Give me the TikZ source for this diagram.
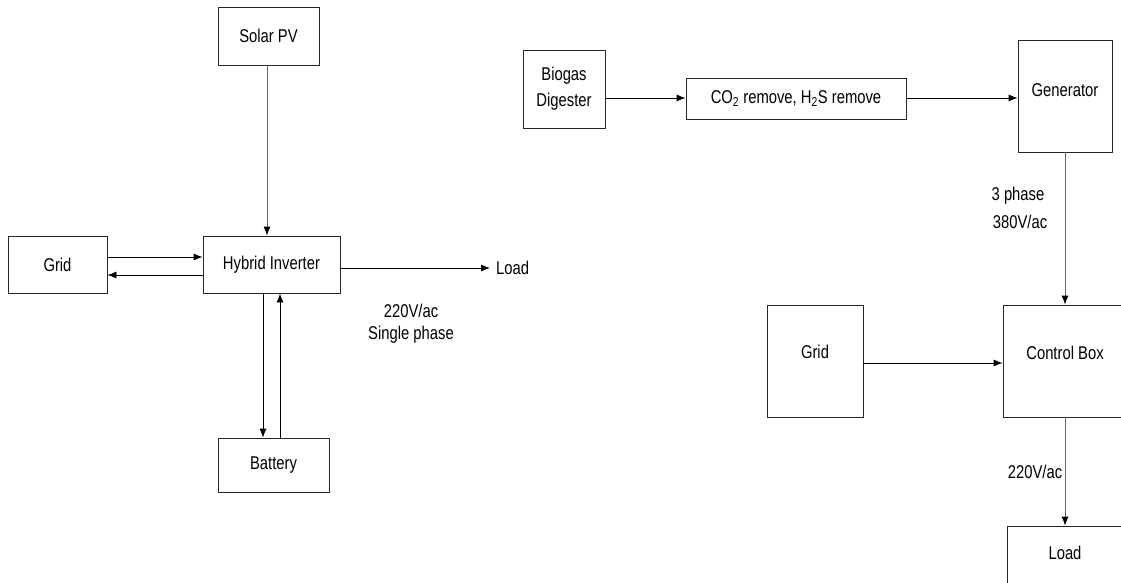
\documentclass[tikz,border=0pt]{standalone}
\usepackage{fontspec}
\setmainfont{Liberation Sans}[FakeStretch=0.8]
\usetikzlibrary{arrows.meta}
\tikzset{
  box/.style={draw=black!85, line width=0.8pt, fill=white, inner sep=0pt, font=\fontsize{18.5}{22}\selectfont},
  lbl/.style={font=\fontsize{18.5}{22}\selectfont, inner sep=0pt},
  arr/.style={line width=0.8pt, -{Latex[length=9pt,width=7pt]}},
  garr/.style={draw=black!60, line width=0.9pt, arrows={-{Latex[length=9pt,width=7pt,color=black]}}}
}
\begin{document}
\begin{tikzpicture}[x=1pt,y=-1pt]
\clip (0,0) rectangle (1121,583);
\fill[white] (0,0) rectangle (1121,583);
% left diagram
\node[box, minimum width=101pt, minimum height=58pt] (solar) at (268.5,36) {Solar PV};
\node[box, minimum width=99pt, minimum height=57pt] (gridL) at (57.5,264.5) {Grid};
\node[box, minimum width=137pt, minimum height=57pt] (inv) at (271.5,264.5) {Hybrid Inverter};
\node[box, minimum width=111pt, minimum height=54pt] (bat) at (273.5,465) {Battery};
\node[lbl, anchor=west] (loadL) at (496,268) {Load};
\node[lbl] (v1) at (411,311) {220V/ac};
\node[lbl] (sp) at (411,335) {Single phase};
\draw[garr] (solar.south -| 267,0) -- (inv.north -| 267,0);
\draw[arr] (gridL.east |- 0,257) -- (inv.west |- 0,257);
\draw[arr] (inv.west |- 0,275) -- (gridL.east |- 0,275);
\draw[arr, shorten >=6pt] (inv.east |- 0,268) -- (loadL.west);
\draw[arr] (inv.south -| 263,0) -- (bat.north -| 263,0);
\draw[arr] (bat.north -| 280,0) -- (inv.south -| 280,0);
% right diagram
\node[box, minimum width=82pt, minimum height=78pt, align=center, font=\fontsize{18.5}{26}\selectfont] (bio) at (564,89) {Biogas\\Digester};
\node[box, minimum width=220pt, minimum height=41pt] (co2) at (796,98.5) {CO\textsubscript{2} remove, H\textsubscript{2}S remove};
\node[box, minimum width=94pt, minimum height=112pt, text depth=12pt] (gen) at (1065,96) {Generator};
\node[box, minimum width=96pt, minimum height=112pt, text depth=18pt] (gridR) at (815,361) {Grid};
\node[box, minimum width=124pt, minimum height=112pt, text depth=16pt] (ctrl) at (1065,361) {Control Box};
\node[box, minimum width=116pt, minimum height=70pt, text depth=16pt] (loadR) at (1065,561) {Load};
\node[lbl] (ph3) at (1018,196) {3 phase};
\node[lbl] (v380) at (1020,222) {380V/ac};
\node[lbl] (v2) at (1035,472) {220V/ac};
\draw[arr] (bio.east |- 0,98) -- (co2.west |- 0,98);
\draw[arr] (co2.east |- 0,98) -- (gen.west |- 0,98);
\draw[garr] (gen.south) -- (ctrl.north);
\draw[arr] (gridR.east |- 0,363) -- (ctrl.west |- 0,363);
\draw[garr] (ctrl.south) -- (loadR.north);
\end{tikzpicture}
\end{document}
